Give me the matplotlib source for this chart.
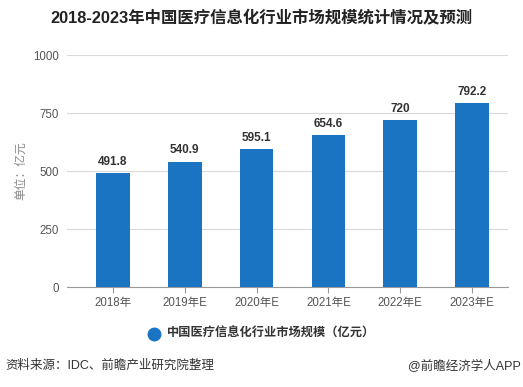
import matplotlib
matplotlib.use("Agg")
import matplotlib.pyplot as plt
import numpy as np

plt.rcParams['font.family'] = ['Liberation Sans', 'Noto Sans CJK SC', 'DejaVu Sans']

years = ['2018年', '2019年E', '2020年E', '2021年E', '2022年E', '2023年E']
market_size = [491.8, 540.9, 595.1, 654.6, 720, 792.2]
value_labels = ['491.8', '540.9', '595.1', '654.6', '720', '792.2']
y_ticks = [0, 250, 500, 750, 1000]

bar_color = '#1a74c2'

fig = plt.figure(figsize=(5.23, 3.87), dpi=100)
ax = fig.add_axes([67 / 523, 1 - 287 / 387, (508 - 67) / 523, (287 - 55) / 387])

x = np.arange(len(years))
ax.bar(x, market_size, width=0.47, color=bar_color, zorder=3)
for xi, v, lab in zip(x, market_size, value_labels):
    ax.text(xi, v + 22, lab, ha='center', va='bottom', fontsize=8.5,
            fontweight='bold', color='#333333')

ax.set_xlim(-0.64, 5.5)
ax.set_ylim(0, 1000)
ax.set_yticks(y_ticks)
ax.set_xticks(x)
ax.set_xticklabels(years)
ax.grid(axis='y', color='#d9d9d9', linewidth=0.8, zorder=0)
for s in ['top', 'right', 'left']:
    ax.spines[s].set_visible(False)
ax.spines['bottom'].set_color('#999999')
ax.tick_params(axis='y', length=0, labelsize=8.3, labelcolor='#555555', pad=6)
ax.tick_params(axis='x', length=4, color='#999999', labelsize=8.3,
               labelcolor='#555555', pad=3)
ax.set_ylabel('单位：亿元', fontsize=8.5, color='#888888', labelpad=4)

fig.text(0.5, 1 - 18 / 387, '2018-2023年中国医疗信息化行业市场规模统计情况及预测',
         ha='center', va='center', fontsize=11.8, fontweight='bold', color='#222222')

# legend
fig.lines.append(plt.Line2D([154 / 523], [1 - 334 / 387], marker='o', markersize=9,
                            color=bar_color, transform=fig.transFigure))
fig.text(167 / 523, 1 - 334 / 387, '中国医疗信息化行业市场规模（亿元）',
         ha='left', va='center', fontsize=8.8, fontweight='bold', color='#333333')

fig.text(5 / 523, 1 - 366 / 387, '资料来源：IDC、前瞻产业研究院整理',
         ha='left', va='center', fontsize=9, color='#333333')
fig.text(521 / 523, 1 - 366 / 387, '@前瞻经济学人APP',
         ha='right', va='center', fontsize=9, color='#333333')

fig.savefig('out.png', dpi=100)
